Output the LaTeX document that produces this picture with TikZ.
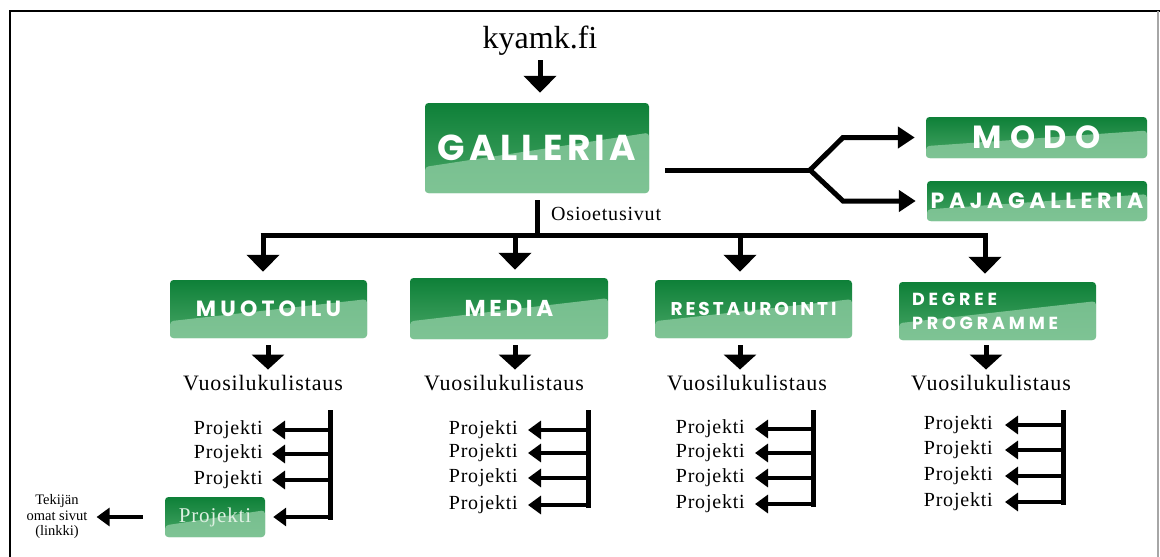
\documentclass[tikz,border=0pt]{standalone}
\usepackage{fontspec}
\setmainfont{Liberation Serif}
\newfontfamily\boxfont{Poppins}
\newfontfamily\wserif{Liberation Serif}[LetterSpace=4]
\usetikzlibrary{arrows.meta,calc}
\definecolor{gdark}{RGB}{14,128,56}
\definecolor{gmid}{RGB}{72,166,102}
\definecolor{glight}{RGB}{140,203,160}
\definecolor{ptext}{RGB}{222,240,226}
\tikzset{
  gbox/.style={rounded corners=3.5pt, inner sep=0pt, text=white, top color=gdark, bottom color=gmid,
    path picture={\fill[glight,opacity=0.8]
      ($(path picture bounding box.west)!0.42!(path picture bounding box.south west)$) --
      ($(path picture bounding box.north east)!0.66!(path picture bounding box.east)$) --
      (path picture bounding box.south east) -- (path picture bounding box.south west) -- cycle;}},
  ln/.style={line width=5pt},
  darr/.style={line width=5pt, -{Triangle[length=17pt,width=32pt]}},
  barr/.style={line width=5pt, -{Triangle[length=15pt,width=32pt]}},
  rarr/.style={line width=5pt, -{Triangle[length=17pt,width=21pt]}},
  larr/.style={line width=4.5pt, -{Triangle[length=13pt,width=18pt]}},
  ser/.style={inner sep=0pt, text=black},
  proj/.style={ser, anchor=east, font=\wserif\fontsize{20}{24}\selectfont},
  vuosi/.style={ser, anchor=base, font=\wserif\fontsize{22}{26}\selectfont},
}
\newcommand{\bxf}[3]{\boxfont\bfseries\fontsize{#1}{#2}\selectfont\addfontfeatures{LetterSpace=#3}}
\begin{document}
\begin{tikzpicture}[x=1pt,y=-1pt]
\useasboundingbox (0,0) rectangle (1160,557);
% frame
\draw[line width=2pt] (10,557) -- (10,11) -- (1160,11);
\draw[black!35, line width=1.5pt] (1158,11) -- (1158,557);

% top
\node[ser, anchor=base, font=\fontsize{32}{36}\selectfont] (kyamk) at (540,48) {kyamk.fi};
\node[gbox, minimum width=224pt, minimum height=90pt, font=\bxf{36}{40}{12}] (galleria) at (537,148) {GALLERIA};
\draw[darr, shorten <=5pt, shorten >=10pt] (kyamk.south) -- (kyamk.south |- galleria.north);

% right side
\node[gbox, minimum width=221pt, minimum height=41pt, font=\bxf{32}{34}{27}] (modo) at (1036.5,137.5) {MODO};
\node[gbox, minimum width=220pt, minimum height=40pt, font=\bxf{22}{24}{21}] (paja) at (1037,201) {PAJAGALLERIA};
\coordinate (split) at (810,170);
\coordinate (up) at (843,137.5);
\coordinate (low) at (843,201);
\draw[ln] ($(galleria.east)+(16,22)$) -- (split);
\draw[rarr, shorten >=11pt] (split) -- (up) -- (up -| modo.west);
\draw[rarr, shorten >=11pt] (split) -- (low) -- (low -| paja.west);

% bus
\coordinate (bus) at (537,235);
\coordinate (busL) at (260.5,235);
\coordinate (busR) at (987.5,235);
\draw[ln, shorten <=7pt] (galleria.south) -- (bus);
\draw[ln] (busL) -- (busR);
\node[ser, anchor=base west, font=\wserif\fontsize{20}{24}\selectfont] (osio) at (551,220) {Osioetusivut};

% category boxes
\node[gbox, minimum width=197pt, minimum height=58pt, font=\bxf{22}{24}{19}] (muotoilu) at (268.5,309) {MUOTOILU};
\node[gbox, minimum width=198pt, minimum height=61pt, font=\bxf{23}{24}{16}] (media) at (509,308.5) {MEDIA};
\node[gbox, minimum width=197pt, minimum height=58pt, font=\bxf{18.5}{20}{16}] (resta) at (753.5,309) {RESTAUROINTI};
\node[gbox, minimum width=197pt, minimum height=58pt, align=left, text width=171pt, font=\bxf{17.5}{24}{22}] (degree) at (997.5,311) {DEGREE\\PROGRAMME};

\coordinate (d1) at (263,235);
\coordinate (d2) at (515,235);
\coordinate (d3) at (740,235);
\coordinate (d4) at (985,235);
\draw[darr, shorten >=8pt] (d1) -- (d1 |- muotoilu.north);
\draw[darr, shorten >=8pt] (d2) -- (d2 |- media.north);
\draw[darr, shorten >=8pt] (d3) -- (d3 |- resta.north);
\draw[darr, shorten >=8pt] (d4) -- (d4 |- degree.north);

% Vuosilukulistaus
\node[vuosi] (v1) at (263,390) {Vuosilukulistaus};
\node[vuosi] (v2) at (504,390) {Vuosilukulistaus};
\node[vuosi] (v3) at (747,390) {Vuosilukulistaus};
\node[vuosi] (v4) at (991,390) {Vuosilukulistaus};
\coordinate (e1) at (268,0);
\coordinate (e2) at (515,0);
\coordinate (e3) at (740,0);
\coordinate (e4) at (986,0);
\draw[barr, shorten <=7pt, shorten >=5pt] (e1 |- muotoilu.south) -- (e1 |- v1.north);
\draw[barr, shorten <=6pt, shorten >=5pt] (e2 |- media.south) -- (e2 |- v2.north);
\draw[barr, shorten <=7pt, shorten >=5pt] (e3 |- resta.south) -- (e3 |- v3.north);
\draw[barr, shorten <=5pt, shorten >=5pt] (e4 |- degree.south) -- (e4 |- v4.north);

% column 1
\coordinate (s1t) at (330,410);
\coordinate (s1b) at (330,520);
\draw[ln] (s1t) -- (s1b);
\foreach \y [count=\i] in {430,454,480} {
  \node[proj] (p1\i) at (263,\y) {Projekti};
  \draw[larr, shorten >=9pt] (s1t |- p1\i.east) -- (p1\i.east);
}
\node[gbox, minimum width=100pt, minimum height=40pt, font=\wserif\fontsize{21}{24}\selectfont, text=ptext] (pg) at (215,517) {Projekti};
\draw[larr, shorten >=8pt] (s1t |- pg.east) -- (pg.east);
\node[ser, align=center, font=\fontsize{14.5}{15.5}\selectfont] (tek) at (57,517) {Tekijän\\omat sivut\\(linkki)};
\draw[larr, shorten <=22pt, shorten >=9pt] (pg.west) -- (pg.west -| tek.east);

% column 2
\coordinate (s2t) at (588,410);
\coordinate (s2b) at (588,507.5);
\draw[ln] (s2t) -- (s2b);
\foreach \y [count=\i] in {430,453,478,505} {
  \node[proj] (p2\i) at (518,\y) {Projekti};
  \draw[larr, shorten >=10pt] (s2t |- p2\i.east) -- (p2\i.east);
}

% column 3
\coordinate (s3t) at (813,410);
\coordinate (s3b) at (813,506.5);
\draw[ln] (s3t) -- (s3b);
\foreach \y [count=\i] in {429,453,478,504} {
  \node[proj] (p3\i) at (745,\y) {Projekti};
  \draw[larr, shorten >=10pt] (s3t |- p3\i.east) -- (p3\i.east);
}

% column 4
\coordinate (s4t) at (1063,410);
\coordinate (s4b) at (1063,504.5);
\draw[ln] (s4t) -- (s4b);
\foreach \y [count=\i] in {425,450,476,502} {
  \node[proj] (p4\i) at (993,\y) {Projekti};
  \draw[larr, shorten >=12pt] (s4t |- p4\i.east) -- (p4\i.east);
}
\end{tikzpicture}
\end{document}
